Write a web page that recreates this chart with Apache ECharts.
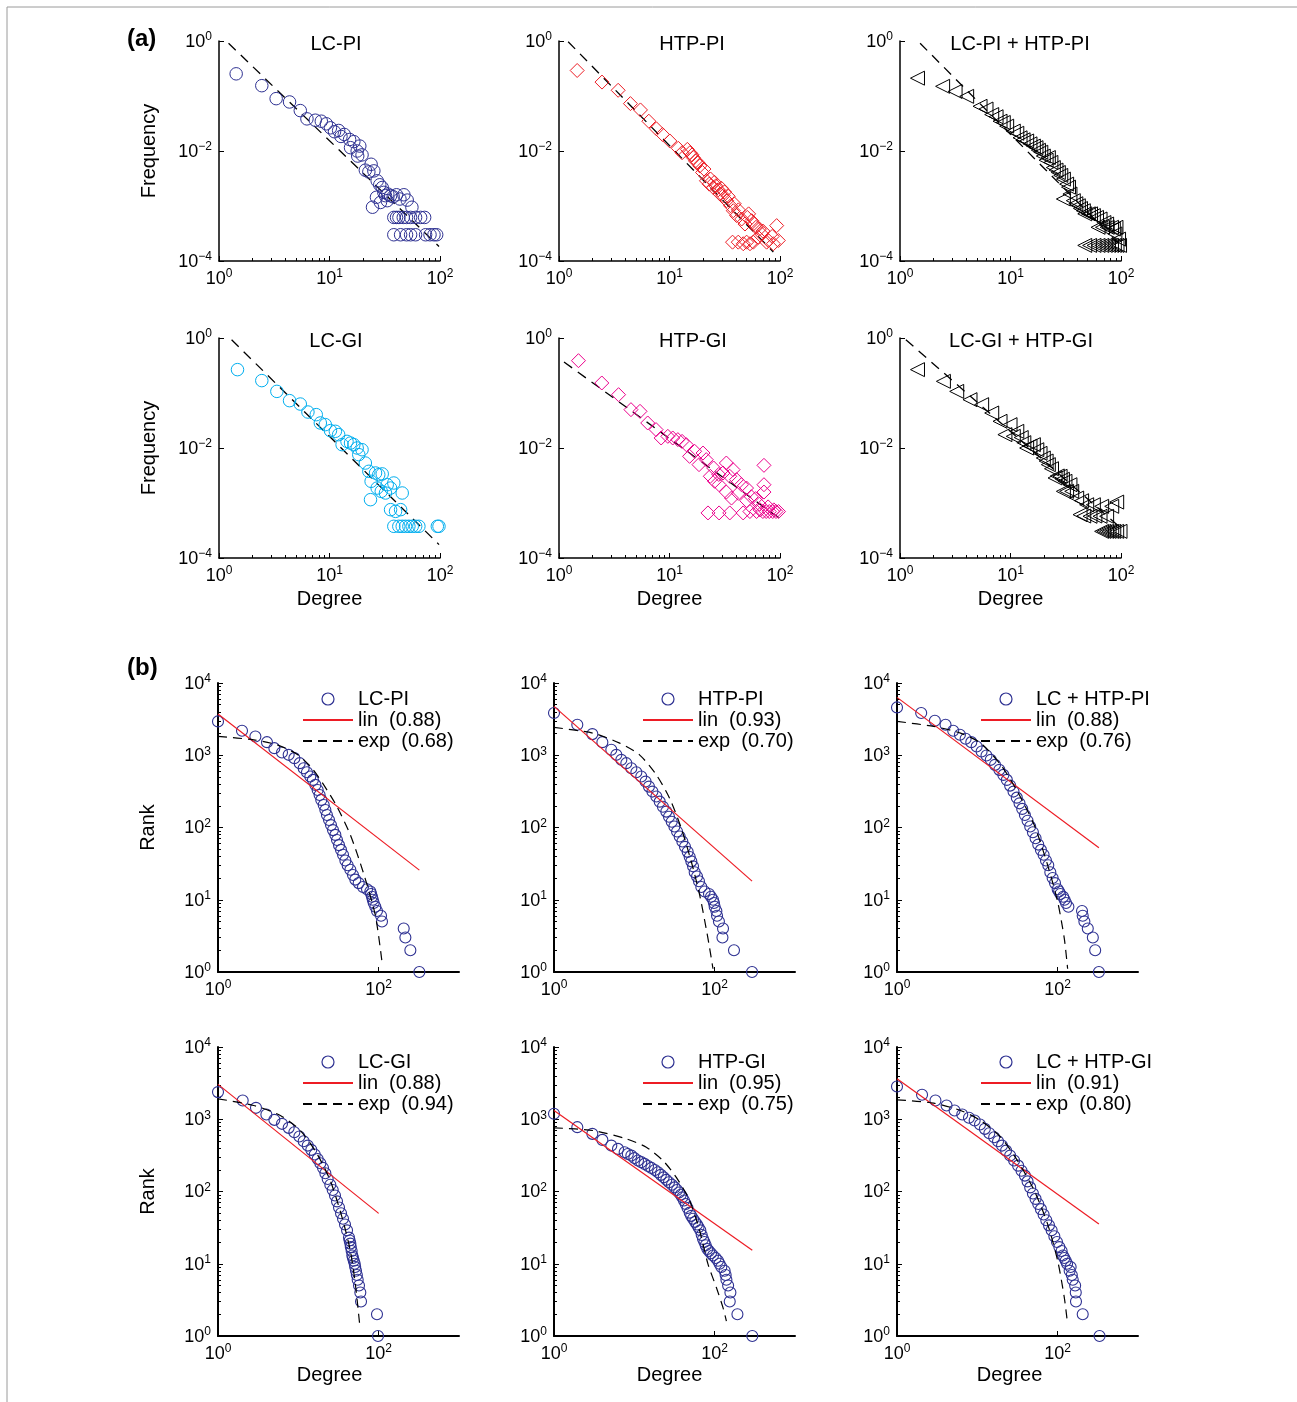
<!DOCTYPE html>
<html>
<head>
<meta charset="utf-8">
<title>Degree distributions and rank plots</title>
<script src="https://cdn.jsdelivr.net/npm/echarts@6/dist/echarts.min.js"></script>
<style>
  html, body { margin: 0; padding: 0; background: #fff; }
  #main { width: 1297px; height: 1402px; }
</style>
</head>
<body>
<div id="main"></div>
<script type="text/javascript">
// ---- (a) degree vs frequency, [degree, frequency] ----
var freqLcPi = [[1.43,0.253],[2.44,0.154],[3.29,0.0895],[4.35,0.0779],[5.44,0.0543],[6.25,0.0384],[7.44,0.0363],[8.43,0.0348],[9.36,0.0312],[10.2,0.0264],[11.1,0.0224],[12.1,0.0236],[12.7,0.0184],[13.6,0.0200],[15.2,0.0162],[15.5,0.0115],[16.6,0.0148],[17.8,0.0100],[18.0,0.0081],[18.8,0.0123],[19.7,0.0085],[21.1,0.00448],[22.7,0.00417],[23.8,0.00574],[25.2,0.00435],[27.0,0.00287],[28.5,0.00243],[30.0,0.00217],[31.0,0.00177],[32.1,0.00154],[33.7,0.00165],[35.7,0.00154],[37.7,0.00147],[40.4,0.0016],[43.4,0.00134],[47.1,0.0016],[50.5,0.00128],[55.7,0.00095],[24.5,0.00095],[26.6,0.00144],[28.9,0.00116],[33.3,0.00125],[38.2,0.00062],[40.4,0.00062],[42.5,0.00062],[46.5,0.00062],[49.8,0.00062],[54.2,0.00062],[60.1,0.00062],[66.8,0.00062],[72.6,0.00062],[38.2,0.0003],[44.0,0.0003],[49.8,0.0003],[54.2,0.0003],[60.1,0.0003],[74.1,0.0003],[81.2,0.0003],[88.2,0.0003],[93.3,0.0003]];
var freqHtpPi = [[1.46,0.291],[2.45,0.179],[3.43,0.127],[4.43,0.0727],[5.46,0.0558],[6.5,0.0348],[7.62,0.0253],[8.64,0.02],[10.07,0.0152],[12.0,0.0112],[13.0,0.0093],[14.5,0.0107],[15.3,0.0093],[16.4,0.0076],[17.2,0.0066],[18.8,0.00536],[19.9,0.00406],[21.6,0.00287],[22.9,0.0025],[24.9,0.00217],[26.3,0.00233],[27.6,0.00197],[28.6,0.00165],[30.6,0.00154],[32.9,0.00125],[35.7,0.00101],[37.8,0.00082],[40.5,0.00067],[45.0,0.00058],[48.2,0.00047],[50.6,0.00062],[55.4,0.00054],[60.6,0.00041],[68.2,0.00031],[78.4,0.000236],[93.3,0.00044],[96.6,0.000236],[37.2,0.00022],[41.9,0.00022],[46.5,0.000206],[49.9,0.00022],[53.5,0.000206],[57.3,0.00022],[63.6,0.00027],[75.7,0.00022],[87.1,0.000206],[16.0,0.0085],[18.0,0.0062],[20.5,0.0047],[23.5,0.0031],[25.5,0.0027],[29.5,0.0021],[31.5,0.0018],[34.0,0.0015],[38.5,0.0011],[42.0,0.00085],[52.0,0.00072],[58.0,0.00048],[65.0,0.00038],[70.0,0.00035],[85.0,0.00028]];
var freqLcHtpPi = [[1.44,0.211],[2.43,0.15],[3.15,0.121],[4.01,0.0986],[5.3,0.065],[6.0,0.058],[6.76,0.046],[7.4,0.042],[8.04,0.0348],[8.6,0.033],[9.23,0.0283],[10.6,0.023],[11.4,0.021],[12.2,0.0174],[13.0,0.016],[14.0,0.0152],[15.0,0.0135],[16.1,0.0123],[17.0,0.0115],[17.9,0.0103],[18.8,0.0095],[19.8,0.0081],[22.0,0.0076],[21.0,0.0068],[23.2,0.0062],[24.4,0.005],[25.8,0.0045],[27.1,0.00406],[28.5,0.0036],[30.1,0.00308],[32.2,0.0025],[33.5,0.0022],[30.1,0.00134],[34.5,0.00165],[37.0,0.00125],[39.0,0.0011],[41.1,0.00101],[43.0,0.0009],[45.6,0.00082],[50.6,0.00072],[56.2,0.00067],[60.0,0.00062],[64.6,0.00058],[70.0,0.0005],[74.1,0.00047],[85.2,0.00038],[53,0.00072],[47,0.00072],[62,0.00041],[68,0.00041],[75,0.00041],[82,0.00041],[90,0.00041],[47,0.000192],[52,0.000192],[57,0.000192],[62,0.000192],[67,0.000192],[72,0.000192],[77,0.000192],[82,0.000192],[87,0.000192],[92,0.000192],[97,0.000192],[95,0.00025],[88,0.00031]];
var freqLcGi = [[1.47,0.266],[2.44,0.168],[3.34,0.107],[4.35,0.0726],[5.44,0.063],[6.38,0.0451],[7.59,0.0404],[8.26,0.0285],[9.16,0.0266],[10.2,0.0207],[11.3,0.0201],[12.1,0.0175],[13.0,0.0115],[14.4,0.0132],[15.5,0.0123],[16.6,0.0115],[17.8,0.01],[18.4,0.00757],[19.7,0.0093],[21.1,0.00533],[22.7,0.00377],[23.8,0.00248],[26.1,0.00351],[27.9,0.00327],[30.0,0.00338],[27.0,0.00187],[29.4,0.00163],[32.1,0.00152],[35.7,0.00187],[38.2,0.00231],[33.3,0.00215],[45.5,0.00152],[23.5,0.00115],[35.7,0.000757],[39.6,0.000705],[44.0,0.000757],[38.2,0.000377],[42.4,0.000377],[45.5,0.000377],[48.8,0.000377],[52.3,0.000377],[56.1,0.000377],[60.2,0.000377],[64.4,0.000377],[94.6,0.000377],[97.9,0.000377]];
var freqHtpGi = [[1.5,0.387],[2.44,0.152],[3.46,0.0933],[4.48,0.0498],[5.41,0.0464],[6.35,0.0285],[7.56,0.0216],[8.4,0.0152],[9.66,0.0163],[10.7,0.0152],[11.9,0.0142],[13.0,0.0132],[14.2,0.0115],[15.2,0.00705],[16.9,0.0087],[18.5,0.00498],[20.1,0.0081],[21.5,0.00614],[23.4,0.00306],[25.6,0.00248],[28.1,0.00215],[30.5,0.00351],[32.7,0.00533],[35.1,0.00306],[37.6,0.00404],[40.4,0.00266],[44.8,0.00215],[49.8,0.00187],[32.7,0.00158],[36.4,0.00123],[27.9,0.0033],[25.1,0.00433],[22.3,0.00066],[28.1,0.00066],[35.1,0.00066],[46.4,0.00066],[53.4,0.0007],[61.4,0.0007],[66,0.00075],[70,0.0007],[75,0.0007],[80,0.0007],[86,0.0007],[92,0.0007],[97,0.0007],[71.6,0.00484],[71.6,0.00215],[71.6,0.00158],[60.1,0.0012],[55,0.0013],[50,0.0011],[42,0.0015],[65,0.00095],[78,0.00085],[88,0.00075]];
var freqLcHtpGi = [[1.44,0.266],[2.47,0.163],[3.26,0.107],[4.3,0.0757],[5.48,0.0614],[6.76,0.0433],[8.04,0.0306],[8.9,0.0175],[9.9,0.0266],[10.6,0.0163],[11.4,0.0201],[12.5,0.0155],[13.2,0.0125],[14.0,0.01],[15.0,0.0108],[16.1,0.0115],[17.3,0.0093],[18.5,0.008],[19.8,0.00658],[21,0.0058],[22.0,0.00498],[23.5,0.0042],[25.3,0.00285],[26.5,0.0031],[28.1,0.00306],[29.5,0.0027],[31.1,0.00248],[34.5,0.00215],[30.1,0.00163],[32.2,0.00163],[35.8,0.00163],[39.7,0.00123],[44,0.0011],[48.9,0.00093],[56.2,0.00093],[66.8,0.00087],[82.4,0.00087],[91.4,0.00104],[42.6,0.000614],[52.4,0.000573],[58,0.00058],[64.6,0.000573],[74.1,0.000573],[46,0.00058],[66.8,0.000305],[70,0.000305],[74.1,0.000305],[78,0.000305],[82.4,0.000305],[86,0.000305],[91.4,0.000305],[98,0.000305]];

// power-law fit lines (end points)
var fitLcPi = [[1.22,0.91],[98,1.84e-4]];
var fitHtpPi = [[1.21,0.97],[87,1.46e-4]];
var fitLcHtpPi = [[1.52,0.91],[95,2.1e-4]];
var fitLcGi = [[1.3,0.93],[98,1.75e-4]];
var fitHtpGi = [[1.11,0.366],[98.6,5.3e-4]];
var fitLcHtpGi = [[1.13,0.93],[98,3.6e-4]];

// ---- (b) degree vs rank, [degree, rank] ----
var rankLcPi = [[1,2940],[1.99,2183],[2.92,1820],[4.07,1517],[5.03,1253],[6.26,1091],[7.58,1013],[8.92,912],[10.4,777],[11.65,662],[12.8,582],[14.1,507],[15.2,456],[16.3,389],[17.4,331],[18.4,282],[19.3,241],[20.7,205],[21.7,175],[22.7,149],[24.1,127],[25.5,108],[27.0,92],[28.9,79],[30.3,67],[32.1,57],[34.0,49],[36.0,42],[38.5,35],[41.1,30],[44.4,26],[47.9,22],[51.2,19],[56.4,17],[63.8,15],[71.6,14],[78.8,13],[80.5,12],[82.6,11],[84.5,10],[86.7,9],[90.9,8],[95.3,7],[107,6],[110,5],[205,4],[215,3],[248,2],[321,1]];
var rankHtpPi = [[1,3837],[1.95,2643],[3.0,1961],[4.0,1517],[5.17,1189],[5.97,1013],[6.89,864],[7.95,777],[9.18,662],[10.6,582],[12.2,507],[13.8,432],[15.2,368],[16.8,314],[18.8,268],[20.7,228],[22.7,194],[25.0,166],[27.0,141],[29.2,120],[31.5,103],[34.0,88],[36.7,75],[39.6,64],[42.7,54],[46.1,46],[48.9,39],[51.2,34],[53.8,29],[56.4,24],[60.3,21],[63.8,18],[68.2,15],[75.1,13],[85.0,12],[90,11],[95.3,10],[98,9],[100,8],[105,7],[107,6],[113,5],[127,4],[125,3],[174,2],[292,1]];
var rankLcHtpPi = [[1,4593],[2.0,3837],[2.96,3001],[4.02,2643],[5.01,2183],[6.07,1919],[7.15,1690],[8.41,1519],[9.81,1321],[11.3,1127],[13.0,993],[14.7,864],[16.6,736],[18.8,628],[21.1,535],[23.3,456],[25.6,380],[28.2,314],[31.0,259],[33.5,216],[36.2,181],[39.1,149],[42.2,124],[45.5,103],[49.2,86],[53.1,71],[57.3,58],[61.9,49],[66.8,42],[71.5,35],[76.4,30],[81.0,24],[86.6,20],[92.6,17],[100,14],[104,13],[108,12],[117,11],[122,10],[127,9],[136,8],[201,7],[205,6],[215,5],[237,4],[274,3],[293,2],[326,1]];
var rankLcGi = [[1,2375],[2.03,1820],[2.97,1439],[4.0,1163],[5.03,981],[6.26,864],[7.58,760],[8.92,662],[10.3,577],[11.65,497],[13.1,432],[14.5,377],[16.0,325],[17.4,282],[18.8,246],[20.3,212],[21.7,179],[23.2,149],[25.0,124],[26.8,105],[28.6,88],[30.3,73],[32.1,60],[34.0,50],[36.0,42],[38.1,35],[40.4,29],[42.7,23],[43.5,21],[44.4,19],[45,17],[46.1,15],[47,13],[47.9,12],[49,11],[50.3,10],[51,9],[52.2,8],[53.5,7],[54.8,6],[56.9,5],[59.1,4],[60.3,3],[95.3,2],[98.1,1]];
var rankHtpGi = [[1,1189],[1.95,777],[3.0,628],[4.0,518],[5.17,432],[6.26,389],[7.58,349],[8.3,330],[9.18,314],[10,290],[11.1,268],[12.2,255],[13.4,241],[14.8,225],[16.3,212],[18,198],[19.7,185],[21.4,170],[23.2,157],[25,145],[27.0,134],[29.4,124],[31.8,114],[34,105],[36.0,97],[37.8,90],[39.6,83],[41.5,75],[43.6,67],[46,59],[48.9,51],[51,46],[53.8,42],[57,38],[60.3,35],[63,32],[66.3,29],[69,25],[71.6,22],[74.5,20],[77.3,18],[81,16],[85.0,15],[90,14],[95.3,13],[103,12],[110,11],[115,10],[121,9],[133,8],[137,7],[140,6],[147,5],[157,4],[154,3],[192,2],[294,1]];
var rankLcHtpGi = [[1,2846],[2.05,2183],[3.01,1820],[4.14,1552],[5.21,1321],[6.49,1163],[7.87,1047],[9.26,961],[10.8,846],[12.4,736],[14.1,641],[16.2,564],[18.1,497],[20.3,432],[22.8,368],[25.6,314],[28.7,268],[32.2,228],[35.5,194],[39.1,166],[42.2,138],[45.5,114],[49.2,94],[53.1,79],[57.3,67],[61.9,57],[66.8,48],[72.2,40],[78.0,34],[84.1,29],[90.9,24],[98.1,20],[105,17],[112,15],[116,13],[121,12],[126,11],[131,10],[141,8],[145,9],[150,7],[154,6],[165,5],[168,4],[169,3],[205,2],[332,1]];

// linear (log-log) fits, end points
var linLcPi = [[1,3715],[321,25.7]];
var linHtpPi = [[1,4742],[292,18.1]];
var linLcHtpPi = [[1,6324],[326,52.5]];
var linLcGi = [[1,3037],[100,49.8]];
var linHtpGi = [[1,1321],[294,15.4]];
var linLcHtpGi = [[1,3637],[326,35.4]];

// exponential fits
var expLcPi = [[1,1820],[2.78,1636],[5.43,1395],[9.62,1035],[14.8,662],[21,380],[30.3,194],[44.4,79],[65,23],[90.9,6.1],[110,1.38]];
var expHtpPi = [[1,2427],[3.06,2023],[6.57,1472],[11.6,1013],[18.8,535],[27.5,254],[38.5,97],[51.2,33.6],[65.1,11.6],[82.6,2.9],[95.3,1.11]];
var expLcHtpPi = [[1,2939],[2.87,2506],[6.19,2023],[11.0,1472],[19.6,736],[31.6,314],[51.1,108],[75,30.2],[100,9.35],[121,2.9],[133,1.11]];
var expLcGi = [[1,1919],[2.78,1552],[5.97,1127],[10.6,698],[17.1,331],[25.0,141],[35,43.9],[44.4,15.1],[51.3,5.2],[58,1.45]];
var expHtpGi = [[1,760],[3.06,698],[7.95,535],[14.1,410],[22.7,268],[33.3,157],[48.9,74.6],[65.1,28.6],[82.6,9.87],[105,4.69],[127,2.47],[140,1.61]];
var expLcHtpGi = [[1,1860],[2.87,1671],[6.19,1321],[11.0,961],[19.6,564],[31.6,268],[51.1,103],[75,35.4],[100,11],[121,3.4],[133,1.45]];

var titlesA = ['LC-PI', 'HTP-PI', 'LC-PI + HTP-PI', 'LC-GI', 'HTP-GI', 'LC-GI + HTP-GI'];
var namesB = ['LC-PI', 'HTP-PI', 'LC + HTP-PI', 'LC-GI', 'HTP-GI', 'LC + HTP-GI'];
var linR2 = ['0.88', '0.93', '0.88', '0.88', '0.95', '0.91'];
var expR2 = ['0.68', '0.70', '0.76', '0.94', '0.75', '0.80'];
var minorA = [2,3,4,5,6,7,8,9,20,30,40,50,60,70,80,90];
var minorB = [2,3,4,5,6,7,8,9,20,30,40,50,60,70,80,90,200,300,400,500,600,700,800,900,2000,3000,4000,5000,6000,7000,8000,9000];

var FONT = '"Liberation Sans", Arial, Helvetica, sans-serif';
var myChart = echarts.init(document.getElementById('main'));

function sup10(v) {
    var e = Math.round(Math.log10(v));
    return '{b|10}{e|' + (e < 0 ? '\u2212' + (-e) : e) + '}';
}
var richTick = {
    b: { fontSize: 18, fontFamily: FONT, color: '#000', verticalAlign: 'bottom', lineHeight: 20 },
    e: { fontSize: 12, fontFamily: FONT, color: '#000', verticalAlign: 'top', lineHeight: 20 }
};

function mainAxis(gi, pos, min, max, ticks, name, gap, lw, namePad) {
    return {
        type: 'log', logBase: 10, gridIndex: gi, position: pos, min: min, max: max,
        name: name, nameLocation: 'middle', nameGap: gap,
        nameTextStyle: { fontSize: 20, color: '#000', fontFamily: FONT, padding: namePad || 0 },
        axisLine: { lineStyle: { color: '#000', width: lw } },
        axisTick: { inside: true, length: 5, customValues: ticks, lineStyle: { color: '#000', width: 1 } },
        axisLabel: { customValues: ticks, formatter: sup10, rich: richTick, margin: 7 },
        splitLine: { show: false }
    };
}
function minorAxis(gi, pos, min, max, ticks) {
    return {
        type: 'log', logBase: 10, gridIndex: gi, position: pos, min: min, max: max,
        axisLine: { show: false },
        axisTick: { inside: true, length: 3, customValues: ticks, lineStyle: { color: '#000', width: 1 } },
        axisLabel: { show: false },
        splitLine: { show: false }
    };
}

var option = {
    animation: false,
    backgroundColor: '#fff',
    textStyle: { fontFamily: FONT },
    title: [], grid: [], xAxis: [], yAxis: [], legend: [], series: [],
    graphic: [{
        type: 'rect', silent: true,
        shape: { x: 7, y: 7, width: 1320, height: 1420 },
        style: { fill: 'none', stroke: '#9a9a9a', lineWidth: 1 }
    }]
};

option.title.push({ text: '(a)', left: 127, top: 27, padding: 0, textStyle: { fontSize: 24, fontWeight: 'bold', color: '#000', fontFamily: FONT } });
option.title.push({ text: '(b)', left: 127, top: 656, padding: 0, textStyle: { fontSize: 24, fontWeight: 'bold', color: '#000', fontFamily: FONT } });

// ---------- panel (a) ----------
var panelA = [
    { data: freqLcPi, fit: fitLcPi, symbol: 'circle', size: 12.5, rot: 0, color: '#2e3192' },
    { data: freqHtpPi, fit: fitHtpPi, symbol: 'diamond', size: 14, rot: 0, color: '#ed1c24' },
    { data: freqLcHtpPi, fit: fitLcHtpPi, symbol: 'triangle', size: 14, rot: 90, color: '#000' },
    { data: freqLcGi, fit: fitLcGi, symbol: 'circle', size: 12.5, rot: 0, color: '#00aeef' },
    { data: freqHtpGi, fit: fitHtpGi, symbol: 'diamond', size: 14, rot: 0, color: '#ec008c' },
    { data: freqLcHtpGi, fit: fitLcHtpGi, symbol: 'triangle', size: 14, rot: 90, color: '#000' }
];
var colLeftA = [219, 559, 900], rowTopA = [41, 338];
var titleXA = [336, 692, 1020, 336, 693, 1021];

panelA.forEach(function (p, i) {
    var row = Math.floor(i / 3), col = i % 3;
    option.grid.push({ left: colLeftA[col], top: rowTopA[row], width: 221, height: 220 });
    var gi = option.grid.length - 1;
    var xi = option.xAxis.length;
    option.xAxis.push(mainAxis(gi, 'bottom', 1, 100, [1, 10, 100], row === 1 ? 'Degree' : '', 31, 1.5));
    option.xAxis.push(minorAxis(gi, 'bottom', 1, 100, minorA));
    var yi = option.yAxis.length;
    option.yAxis.push(mainAxis(gi, 'left', 1e-4, 1, [1e-4, 1e-2, 1], col === 0 ? 'Frequency' : '', 60, 1.5));
    option.title.push({
        text: titlesA[i], left: titleXA[i], top: rowTopA[row] - 7, textAlign: 'center', padding: 0,
        textStyle: { fontSize: 20, fontWeight: 'normal', color: '#000', fontFamily: FONT }
    });
    option.series.push({
        type: 'line', xAxisIndex: xi, yAxisIndex: yi, data: p.fit, symbol: 'none', silent: true,
        lineStyle: { color: '#000', width: 1.3, type: [10, 7] }, z: 2
    });
    option.series.push({
        type: 'scatter', xAxisIndex: xi, yAxisIndex: yi, data: p.data, clip: false,
        symbol: p.symbol, symbolSize: p.size, symbolRotate: p.rot,
        itemStyle: { color: 'rgba(0,0,0,0)', borderColor: p.color, borderWidth: 1, opacity: 1 }, z: 3
    });
});

// ---------- panel (b) ----------
var panelB = [
    { rank: rankLcPi, lin: linLcPi, exp: expLcPi },
    { rank: rankHtpPi, lin: linHtpPi, exp: expHtpPi },
    { rank: rankLcHtpPi, lin: linLcHtpPi, exp: expLcHtpPi },
    { rank: rankLcGi, lin: linLcGi, exp: expLcGi },
    { rank: rankHtpGi, lin: linHtpGi, exp: expHtpGi },
    { rank: rankLcHtpGi, lin: linLcHtpGi, exp: expLcHtpGi }
];
var colLeftB = [218, 554, 897], rowTopB = [683, 1047];
var namePadB = [[0, 18, 0, 0], [0, 10, 0, 0], [0, 16, 0, 0]];
var legendLeftB = [302, 642, 980], legendTopB = [689, 1052];
var legendText = {};
var noDot = { color: 'rgba(0,0,0,0)', borderWidth: 0 };

panelB.forEach(function (p, i) {
    var row = Math.floor(i / 3), col = i % 3;
    option.grid.push({ left: colLeftB[col], top: rowTopB[row], width: 241, height: 289 });
    var gi = option.grid.length - 1;
    var xi = option.xAxis.length;
    option.xAxis.push(mainAxis(gi, 'bottom', 1, 1000, [1, 100], row === 1 ? 'Degree' : '', 29, 2, namePadB[col]));
    var yi = option.yAxis.length;
    option.yAxis.push(mainAxis(gi, 'left', 1, 10000, [1, 10, 100, 1000, 10000], col === 0 ? 'Rank' : '', 60, 2));
    option.yAxis.push(minorAxis(gi, 'left', 1, 10000, minorB));

    var sId = 'rank' + i, lId = 'lin' + i, eId = 'exp' + i;
    legendText[sId] = namesB[i];
    legendText[lId] = 'lin  (' + linR2[i] + ')';
    legendText[eId] = 'exp  (' + expR2[i] + ')';

    option.series.push({
        name: sId, type: 'scatter', xAxisIndex: xi, yAxisIndex: yi, data: p.rank, clip: false,
        symbol: 'circle', symbolSize: 11,
        itemStyle: { color: 'rgba(0,0,0,0)', borderColor: '#2e3192', borderWidth: 1.1, opacity: 1 }, z: 2
    });
    option.series.push({
        name: lId, type: 'line', xAxisIndex: xi, yAxisIndex: yi, data: p.lin, symbol: 'none', silent: true,
        lineStyle: { color: '#ed1c24', width: 1.2 }, itemStyle: { color: '#ed1c24' }, z: 3
    });
    option.series.push({
        name: eId, type: 'line', xAxisIndex: xi, yAxisIndex: yi, data: p.exp, symbol: 'none', silent: true,
        smooth: 0.25,
        lineStyle: { color: '#000', width: 1.2, type: [9, 6] }, itemStyle: { color: '#000' }, z: 3
    });
    option.legend.push({
        left: legendLeftB[col], top: legendTopB[row], orient: 'vertical', padding: 0,
        itemWidth: 50, itemHeight: 12, itemGap: 1, selectedMode: false,
        textStyle: { fontSize: 20, color: '#000', fontFamily: FONT },
        formatter: function (n) { return legendText[n]; },
        data: [
            { name: sId, icon: 'circle', itemStyle: { color: 'rgba(0,0,0,0)', borderColor: '#2e3192', borderWidth: 1.2 } },
            { name: lId, itemStyle: noDot },
            { name: eId, itemStyle: noDot }
        ]
    });
});

myChart.setOption(option);
</script>
</body>
</html>
